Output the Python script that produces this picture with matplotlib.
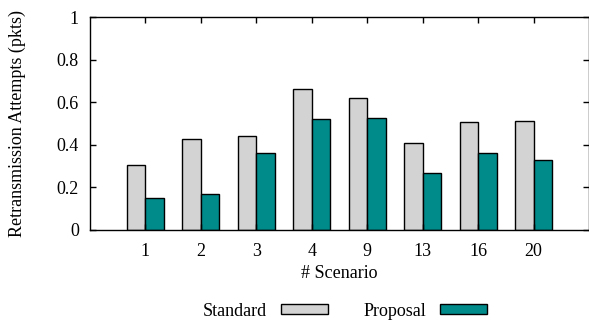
import numpy as np
import matplotlib.pyplot as plt
from matplotlib.patches import Patch

# 数据
scenarios = ['1', '2', '3', '4', '9', '13', '16', '20']
standard = [0.306, 0.426, 0.443, 0.664, 0.619, 0.410, 0.506, 0.510]
proposal = [0.152, 0.167, 0.360, 0.521, 0.525, 0.266, 0.361, 0.328]

plt.rcParams['font.family'] = ['Liberation Serif', 'DejaVu Serif']
plt.rcParams['font.size'] = 13

fig = plt.figure(figsize=(5.89, 3.22), dpi=100)
ax = fig.add_axes([90 / 589, 1 - 230 / 322, 499 / 589, 213 / 322])

x = np.arange(len(scenarios))
w = 1 / 3
ax.bar(x - w / 2, standard, w, color='#d3d3d3', edgecolor='black', linewidth=1)
ax.bar(x + w / 2, proposal, w, color='#008b8b', edgecolor='black', linewidth=1)

ax.set_xlim(-1, 8)
ax.set_ylim(0, 1)
ax.set_xticks(x)
ax.set_xticklabels(scenarios)
ax.set_yticks([0, 0.2, 0.4, 0.6, 0.8, 1])
ax.set_yticklabels(['0', '0.2', '0.4', '0.6', '0.8', '1'])
ax.tick_params(direction='in', length=4, width=1, top=True, right=True)
ax.tick_params(axis='x', pad=9.5)
ax.tick_params(axis='y', pad=8)
for s in ax.spines.values():
    s.set_linewidth(1)

ax.set_xlabel('# Scenario', labelpad=3.5)
ax.set_ylabel('Retransmission Attempts (pkts)', labelpad=22)

handles = [Patch(facecolor='#d3d3d3', edgecolor='black', linewidth=1),
           Patch(facecolor='#008b8b', edgecolor='black', linewidth=1)]
fig.legend(handles, ['Standard', 'Proposal'], loc='center', bbox_to_anchor=(345 / 589, 1 - 311 / 322),
           ncol=2, frameon=False, markerfirst=False, handlelength=2.6, handleheight=0.45,
           handletextpad=0.75, columnspacing=2.0, borderpad=0)

fig.savefig('out.png', dpi=100)
